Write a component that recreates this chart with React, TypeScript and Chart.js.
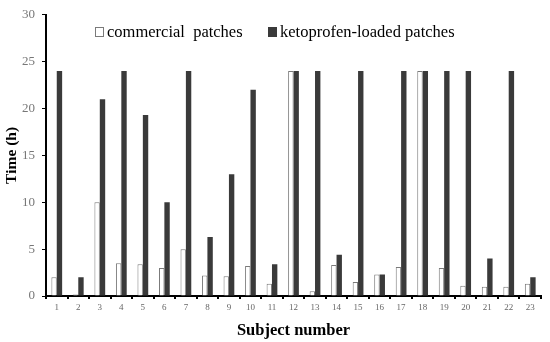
import React, { useEffect, useRef } from "react";
import { Chart, registerables } from "chart.js";

Chart.register(...registerables);

const subjects = ["1","2","3","4","5","6","7","8","9","10","11","12","13","14","15","16","17","18","19","20","21","22","23"];
const commercial = [2.0, 0.15, 10, 3.5, 3.4, 3.0, 5.0, 2.2, 2.1, 3.2, 1.3, 24, 0.5, 3.3, 1.5, 2.3, 3.1, 24, 3.0, 1.1, 1.0, 1.0, 1.3];
const ketoprofen = [24, 2.0, 21, 24, 19.3, 10, 24, 6.3, 13, 22, 3.4, 24, 24, 4.4, 24, 2.3, 24, 24, 24, 24, 4.0, 24, 2.0];
const seriesLabels = ["commercial  patches", "ketoprofen-loaded patches"];
const yTicks = [0, 5, 10, 15, 20, 25, 30];

const SERIF = "'Liberation Serif', 'Times New Roman', serif";

const legendPlugin = {
  id: "customLegend",
  afterDraw(chart: any) {
    const ctx = chart.ctx;
    const ds = chart.data.datasets;
    const positions = [95, 268];
    ctx.save();
    ctx.font = `16.5px ${SERIF}`;
    ctx.textBaseline = "alphabetic";
    ds.forEach((d: any, i: number) => {
      const x = positions[i];
      const y = 27;
      ctx.fillStyle = d.backgroundColor;
      ctx.fillRect(x, y, 8, 9);
      ctx.strokeStyle = d.borderColor;
      ctx.lineWidth = 1;
      ctx.strokeRect(x + 0.5, y + 0.5, 8, 9);
      ctx.fillStyle = "#000";
      ctx.fillText(d.label, x + 12, 37);
    });
    ctx.restore();
  },
};

export default function App() {
  const ref = useRef<HTMLCanvasElement | null>(null);
  useEffect(() => {
    document.body.style.margin = "0";
    const chart = new Chart(ref.current!, {
      type: "bar",
      data: {
        labels: subjects,
        datasets: [
          {
            label: seriesLabels[0],
            data: commercial,
            backgroundColor: "#ffffff",
            borderColor: "#7a7a7a",
            borderWidth: 1,
            barPercentage: 1,
            categoryPercentage: 0.5,
          },
          {
            label: seriesLabels[1],
            data: ketoprofen,
            backgroundColor: "#3a3a3a",
            borderColor: "#3a3a3a",
            borderWidth: 0,
            barPercentage: 1,
            categoryPercentage: 0.5,
          },
        ],
      },
      options: {
        animation: false,
        responsive: false,
        maintainAspectRatio: false,
        layout: { padding: { left: 0, right: 9, top: 7, bottom: 0 } },
        plugins: {
          legend: { display: false },
          tooltip: { enabled: false },
        },
        scales: {
          x: {
            afterFit: (s: any) => { s.height = 46; },
            border: { color: "#000", width: 2 },
            grid: { drawOnChartArea: false, drawTicks: true, tickLength: 3, color: "#000", lineWidth: 2 },
            ticks: { color: "#666", font: { family: SERIF, size: 9 }, padding: 3, maxRotation: 0, autoSkip: false },
            title: { display: true, text: "Subject number", color: "#000", font: { family: SERIF, size: 16.5, weight: "bold" }, padding: { top: 4, bottom: 1 } },
          },
          y: {
            min: 0,
            max: 30,
            afterFit: (s: any) => { s.width = 46; },
            afterBuildTicks: (s: any) => { s.ticks = yTicks.map((v) => ({ value: v })); },
            border: { color: "#000", width: 2 },
            grid: { drawOnChartArea: false, drawTicks: true, tickLength: 4, color: "#000", lineWidth: 1 },
            ticks: { color: "#777", font: { family: SERIF, size: 13 }, padding: 7 },
            title: { display: true, text: "Time (h)", color: "#000", font: { family: SERIF, size: 15.5, weight: "bold" }, padding: { top: 3, bottom: 2 } },
          },
        },
      },
      plugins: [legendPlugin],
    });
    return () => chart.destroy();
  }, []);
  return (
    <div style={{ width: 550, height: 342 }}>
      <canvas ref={ref} width={550} height={342} style={{ width: 550, height: 342 }} />
    </div>
  );
}
